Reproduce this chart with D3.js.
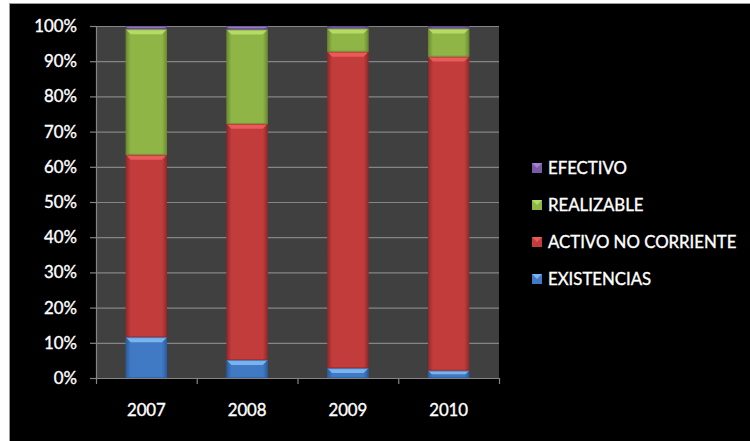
<!DOCTYPE html>
<html><head><meta charset="utf-8">
<script src="https://cdn.jsdelivr.net/npm/d3@7"></script>
<style>
html,body{margin:0;padding:0;background:#fff;}
svg{display:block;}
text{font-family:Lato,"Open Sans",sans-serif;fill:#fff;stroke:#fff;stroke-width:0.35px;}
</style></head>
<body>
<svg id="c" width="750" height="441"></svg>
<script>
const years = ["2007","2008","2009","2010"];
const seriesNames = ["EXISTENCIAS","ACTIVO NO CORRIENTE","REALIZABLE","EFECTIVO"];
const existencias = [11.6, 5.1, 2.8, 2.1];
const activoNoCorriente = [51.8, 67.1, 89.9, 89.2];
const realizable = [35.7, 26.8, 6.6, 8.0];
const efectivo = [0.9, 1.0, 0.7, 0.7];
const yTicks = [0,10,20,30,40,50,60,70,80,90,100];

const colors = {
  "EXISTENCIAS": {base:"#4079c4", light:"#7ab4f0", dark:"#2c5c9c"},
  "ACTIVO NO CORRIENTE": {base:"#c13c3b", light:"#ea5a58", dark:"#8e2a2a"},
  "REALIZABLE": {base:"#8fb546", light:"#b2dc62", dark:"#6a8a30"},
  "EFECTIVO": {base:"#7a5ba6", light:"#a085cc", dark:"#5a4280"}
};

(function(){
const svg = d3.select("#c");
// outer frame
svg.append("rect").attr("x",9).attr("y",3).attr("width",741).attr("height",438).attr("fill","#000");
svg.append("line").attr("x1",9).attr("x2",750).attr("y1",3.5).attr("y2",3.5).attr("stroke","#9a9a9a");
svg.append("line").attr("x1",9.5).attr("x2",9.5).attr("y1",3).attr("y2",441).attr("stroke","#9a9a9a");

const pL=96, pR=499, pT=26, pB=378;
const x = d3.scaleBand().domain(years).range([pL,pR]).paddingInner(0.59).paddingOuter(0.295);
const y = d3.scaleLinear().domain([0,100]).range([pB,pT]);

const defs = svg.append("defs");
Object.entries(colors).forEach(([k,c],i)=>{
  const g = defs.append("linearGradient").attr("id","g"+i).attr("x1","0").attr("x2","1").attr("y1","0").attr("y2","0");
  g.append("stop").attr("offset","0").attr("stop-color",c.dark);
  g.append("stop").attr("offset","0.12").attr("stop-color",c.base);
  g.append("stop").attr("offset","0.88").attr("stop-color",c.base);
  g.append("stop").attr("offset","1").attr("stop-color",c.dark);
});

// plot area
svg.append("rect").attr("x",pL).attr("y",pT).attr("width",pR-pL).attr("height",pB-pT).attr("fill","#404040");
// gridlines
svg.append("g").selectAll("line").data(yTicks).join("line")
  .attr("x1",pL).attr("x2",pR).attr("y1",d=>y(d)+0.5).attr("y2",d=>y(d)+0.5)
  .attr("stroke","#858585").attr("stroke-width",1.2);

// stack
const table = years.map((yr,i)=>({year:yr,"EXISTENCIAS":existencias[i],"ACTIVO NO CORRIENTE":activoNoCorriente[i],"REALIZABLE":realizable[i],"EFECTIVO":efectivo[i]}));
const stack = d3.stack().keys(seriesNames)(table);
stack.forEach((layer)=>{
  const c = colors[layer.key];
  const gi = Object.keys(colors).indexOf(layer.key);
  const g = svg.append("g");
  layer.forEach(d=>{
    const x0 = x(d.data.year), w = x.bandwidth();
    const y0 = y(d[1]), h = y(d[0]) - y(d[1]);
    g.append("rect").attr("x",x0).attr("y",y0).attr("width",w).attr("height",h).attr("fill",`url(#g${gi})`);
    const bev = Math.min(5, h/2);
    if (h > 3) {
      g.append("path").attr("d",`M${x0},${y0}L${x0+w},${y0}L${x0+w-bev},${y0+bev}L${x0+bev},${y0+bev}Z`).attr("fill",c.light);
    }
    g.append("rect").attr("x",x0+0.5).attr("y",y0+0.5).attr("width",w-1).attr("height",Math.max(0,h-1)).attr("fill","none").attr("stroke",c.dark).attr("stroke-opacity",0.6);
  });
});

// axes
const axisG = svg.append("g");
axisG.append("line").attr("x1",pL+0.5).attr("x2",pL+0.5).attr("y1",pT).attr("y2",pB).attr("stroke","#858585").attr("stroke-width",1.2);
axisG.selectAll("line.yt").data(yTicks).join("line").attr("class","yt")
  .attr("x1",pL-6).attr("x2",pL).attr("y1",d=>y(d)+0.5).attr("y2",d=>y(d)+0.5).attr("stroke","#858585").attr("stroke-width",1.2);
axisG.selectAll("text.yl").data(yTicks).join("text").attr("class","yl")
  .attr("x",77).attr("y",d=>y(d)).attr("dy","0.36em").attr("text-anchor","end")
  .attr("font-size",16.8).text(d=>d+"%");
axisG.append("line").attr("x1",pL).attr("x2",pR).attr("y1",pB+0.5).attr("y2",pB+0.5).attr("stroke","#858585").attr("stroke-width",1.2);
const bounds = years.map(yr=>x(yr)-x.step()*x.paddingInner()/2).concat([pR]);
axisG.selectAll("line.xt").data(bounds).join("line").attr("class","xt")
  .attr("x1",d=>d+0.5).attr("x2",d=>d+0.5).attr("y1",pB).attr("y2",pB+6).attr("stroke","#858585").attr("stroke-width",1.2);
axisG.selectAll("text.xl").data(years).join("text").attr("class","xl")
  .attr("x",d=>x(d)+x.bandwidth()/2).attr("y",410).attr("dy","0.36em").attr("text-anchor","middle")
  .attr("font-size",16.8).text(d=>d);

// legend
const legendOrder = ["EFECTIVO","REALIZABLE","ACTIVO NO CORRIENTE","EXISTENCIAS"];
const legendY = [168,205,242,279];
const lg = svg.append("g");
legendOrder.forEach((k,i)=>{
  const c = colors[k];
  const yy = legendY[i];
  lg.append("rect").attr("x",532).attr("y",yy-5).attr("width",10).attr("height",10).attr("fill",c.base);
  lg.append("path").attr("d",`M532,${yy-5}L542,${yy-5}L537,${yy}Z`).attr("fill",c.light);
  lg.append("text").attr("x",548).attr("y",yy).attr("dy","0.36em").attr("font-size",16.8).text(k);
});
})();
</script>
</body></html>
